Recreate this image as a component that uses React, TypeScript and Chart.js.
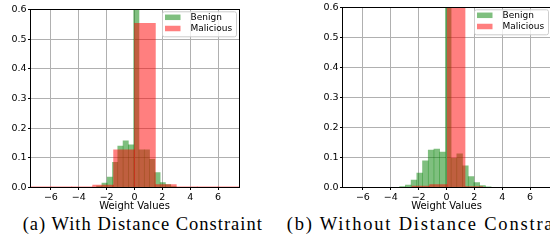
import React, { useEffect, useRef } from 'react';
import { Chart, registerables } from 'chart.js';

Chart.register(...registerables);
Chart.defaults.font.family = '"DejaVu Sans", sans-serif';

const xTicks = [-6, -4, -2, 0, 2, 4, 6];
const yTicks = [0, 0.1, 0.2, 0.3, 0.4, 0.5, 0.6];
const seriesLabels = ['Benign', 'Malicious'];
const xTitle = 'Weight Values';
const captions = ['(a) With Distance Constraint', '(b) Without Distance Constraint'];
const X_MIN = -7.5;
const X_MAX = 7.5;

// (a) With Distance Constraint — bin centres and densities
const benignBinsA = [-2.53, -2.15, -1.77, -1.39, -1.01, -0.63, -0.25, 0.13, 0.51, 0.89, 1.27, 1.65, 2.03, 2.41, 2.79];
const benignA = [0.005, 0.015, 0.035, 0.085, 0.14, 0.157, 0.144, 0.65, 0.127, 0.127, 0.095, 0.05, 0.017, 0.01, 0.003];
const maliciousBinsA = [-6.75, -5.25, -3.75, -2.25, -0.75, 0.75, 2.25, 3.75, 5.25, 6.75];
const maliciousA = [0.002, 0.002, 0.002, 0.008, 0.127, 0.553, 0.01, 0.002, 0.002, 0.002];

// (b) Without Distance Constraint
const benignBinsB = [-3.155, -2.745, -2.335, -1.925, -1.515, -1.105, -0.695, -0.285, 0.125, 0.535, 0.945, 1.355, 1.765, 2.175, 2.585, 2.995];
const benignB = [0.003, 0.008, 0.025, 0.048, 0.089, 0.125, 0.128, 0.118, 0.65, 0.097, 0.112, 0.072, 0.036, 0.016, 0.006, 0.002];
const maliciousBinsB = [-1.845, -0.575, 0.695, 1.965];
const maliciousB = [0.005, 0.01, 0.65, 0.003];

const GREEN = 'rgba(0,128,0,0.5)';
const RED = 'rgba(255,0,0,0.5)';

function fmtX(v: number) {
  return v < 0 ? '\u2212' + Math.abs(v) : String(v);
}

function align(p: number) {
  return Math.round(p - 0.5) + 0.5;
}

type PanelProps = {
  gBins: number[];
  gVals: number[];
  rBins: number[];
  rVals: number[];
  left: number;
  width: number;
  height: number;
  padTop: number;
  padRight: number;
  axisH: number;
};

const Y_AXIS_W = 30;

function Panel(p: PanelProps) {
  const ref = useRef<HTMLCanvasElement>(null);
  useEffect(() => {
    const frameLegend = {
      id: 'frameLegend',
      afterDraw(chart: any) {
        const { ctx, chartArea: a } = chart;
        ctx.save();
        ctx.strokeStyle = '#000';
        ctx.lineWidth = 1;
        const l = align(a.left), r = align(a.right), t = align(a.top), b = align(a.bottom);
        ctx.strokeRect(l, t, r - l, b - t);
        // legend box
        const w = 74, h = 25;
        const bx = a.right - 2.5 - w;
        const by = a.top + 2.3;
        ctx.beginPath();
        if (ctx.roundRect) ctx.roundRect(bx, by, w, h, 2);
        else ctx.rect(bx, by, w, h);
        ctx.fillStyle = 'rgba(255,255,255,0.8)';
        ctx.fill();
        ctx.strokeStyle = '#cccccc';
        ctx.lineWidth = 1;
        ctx.stroke();
        const colors = [GREEN, RED];
        const rows = [5.5, 16.7];
        ctx.font = '9px "DejaVu Sans", sans-serif';
        ctx.textBaseline = 'middle';
        ctx.textAlign = 'left';
        seriesLabels.forEach((lab, i) => {
          const cy = by + rows[i];
          ctx.fillStyle = colors[i];
          ctx.fillRect(bx + 2.5, cy - 2.75, 15.5, 5.5);
          ctx.fillStyle = '#000';
          ctx.fillText(lab, bx + 28, cy + 0.3);
        });
        ctx.restore();
      },
    };

    const setXTicks = (s: any) => {
      s.ticks = xTicks.map((v) => ({ value: v }));
    };

    // pixel width of one data unit along x, from the fixed layout
    const pxPerUnit = (p.width - Y_AXIS_W - p.padRight) / (X_MAX - X_MIN);
    const gWidth = (p.gBins[1] - p.gBins[0]) * pxPerUnit;
    const rWidth = (p.rBins[1] - p.rBins[0]) * pxPerUnit;

    const chart = new Chart(ref.current as HTMLCanvasElement, {
      type: 'bar',
      data: {
        datasets: [
          {
            label: seriesLabels[0],
            data: p.gBins.map((x, i) => ({ x, y: p.gVals[i] })),
            backgroundColor: GREEN,
            borderWidth: 0,
            barPercentage: 1,
            categoryPercentage: 1,
            barThickness: gWidth,
            grouped: false,
            xAxisID: 'x',
            order: 2,
          } as any,
          {
            label: seriesLabels[1],
            data: p.rBins.map((x, i) => ({ x, y: p.rVals[i] })),
            backgroundColor: RED,
            borderWidth: 0,
            barPercentage: 1,
            categoryPercentage: 1,
            barThickness: rWidth,
            grouped: false,
            xAxisID: 'x2',
            order: 1,
          } as any,
        ],
      },
      options: {
        responsive: false,
        maintainAspectRatio: false,
        animation: false,
        events: [],
        layout: { padding: { top: p.padTop, right: p.padRight, left: 0, bottom: 0 } },
        plugins: { legend: { display: false }, tooltip: { enabled: false } },
        scales: {
          x: {
            type: 'linear',
            min: X_MIN,
            max: X_MAX,
            offset: false,
            z: 1,
            afterBuildTicks: setXTicks,
            afterFit: (s: any) => {
              s.height = p.axisH;
            },
            grid: { color: '#b0b0b0', lineWidth: 1, tickColor: '#000', tickLength: 2.5, offset: false },
            border: { display: false },
            ticks: {
              font: { size: 9.5 },
              color: '#000',
              padding: 1.5,
              maxRotation: 0,
              autoSkip: false,
              callback: (v: any) => fmtX(Number(v)),
            },
            title: { display: true, text: xTitle, font: { size: 10 }, color: '#000', padding: { top: 0, bottom: 0 } },
          } as any,
          x2: {
            type: 'linear',
            display: false,
            min: X_MIN,
            max: X_MAX,
            offset: false,
            grid: { offset: false },
            afterBuildTicks: setXTicks,
          } as any,
          y: {
            type: 'linear',
            min: 0,
            max: 0.6,
            z: 1,
            afterBuildTicks: (s: any) => {
              s.ticks = yTicks.map((v) => ({ value: v }));
            },
            afterFit: (s: any) => {
              s.width = Y_AXIS_W;
            },
            grid: { color: '#b0b0b0', lineWidth: 1, tickColor: '#000', tickLength: 2 },
            border: { display: false },
            ticks: {
              font: { size: 9.5 },
              color: '#000',
              padding: 1.5,
              callback: (v: any) => Number(v).toFixed(1),
            },
          } as any,
        },
      },
      plugins: [frameLegend],
    });
    return () => chart.destroy();
  }, []);
  return (
    <canvas
      ref={ref}
      width={p.width}
      height={p.height}
      style={{ position: 'absolute', left: p.left, top: 0, width: p.width, height: p.height }}
    />
  );
}

const captionStyle: React.CSSProperties = {
  position: 'absolute',
  top: 214.5,
  fontFamily: '"Liberation Serif", serif',
  fontSize: 18.5,
  lineHeight: '18.5px',
  letterSpacing: '1px',
  whiteSpace: 'nowrap',
  color: '#000',
};

export default function App() {
  return (
    <div
      style={{
        position: 'fixed',
        left: 0,
        top: 0,
        width: 550,
        height: 251,
        overflow: 'hidden',
        background: '#fff',
      }}
    >
      <Panel
        gBins={benignBinsA}
        gVals={benignA}
        rBins={maliciousBinsA}
        rVals={maliciousA}
        left={0}
        width={275}
        height={212}
        padTop={9.5}
        padRight={36}
        axisH={24.5}
      />
      <Panel
        gBins={benignBinsB}
        gVals={benignB}
        rBins={maliciousBinsB}
        rVals={maliciousB}
        left={312}
        width={259}
        height={212}
        padTop={7.5}
        padRight={20}
        axisH={24.5}
      />
      <div style={{ ...captionStyle, left: 22.7 }}>{captions[0]}</div>
      <div style={{ ...captionStyle, left: 286.7, letterSpacing: '1.8px' }}>{captions[1]}</div>
    </div>
  );
}
